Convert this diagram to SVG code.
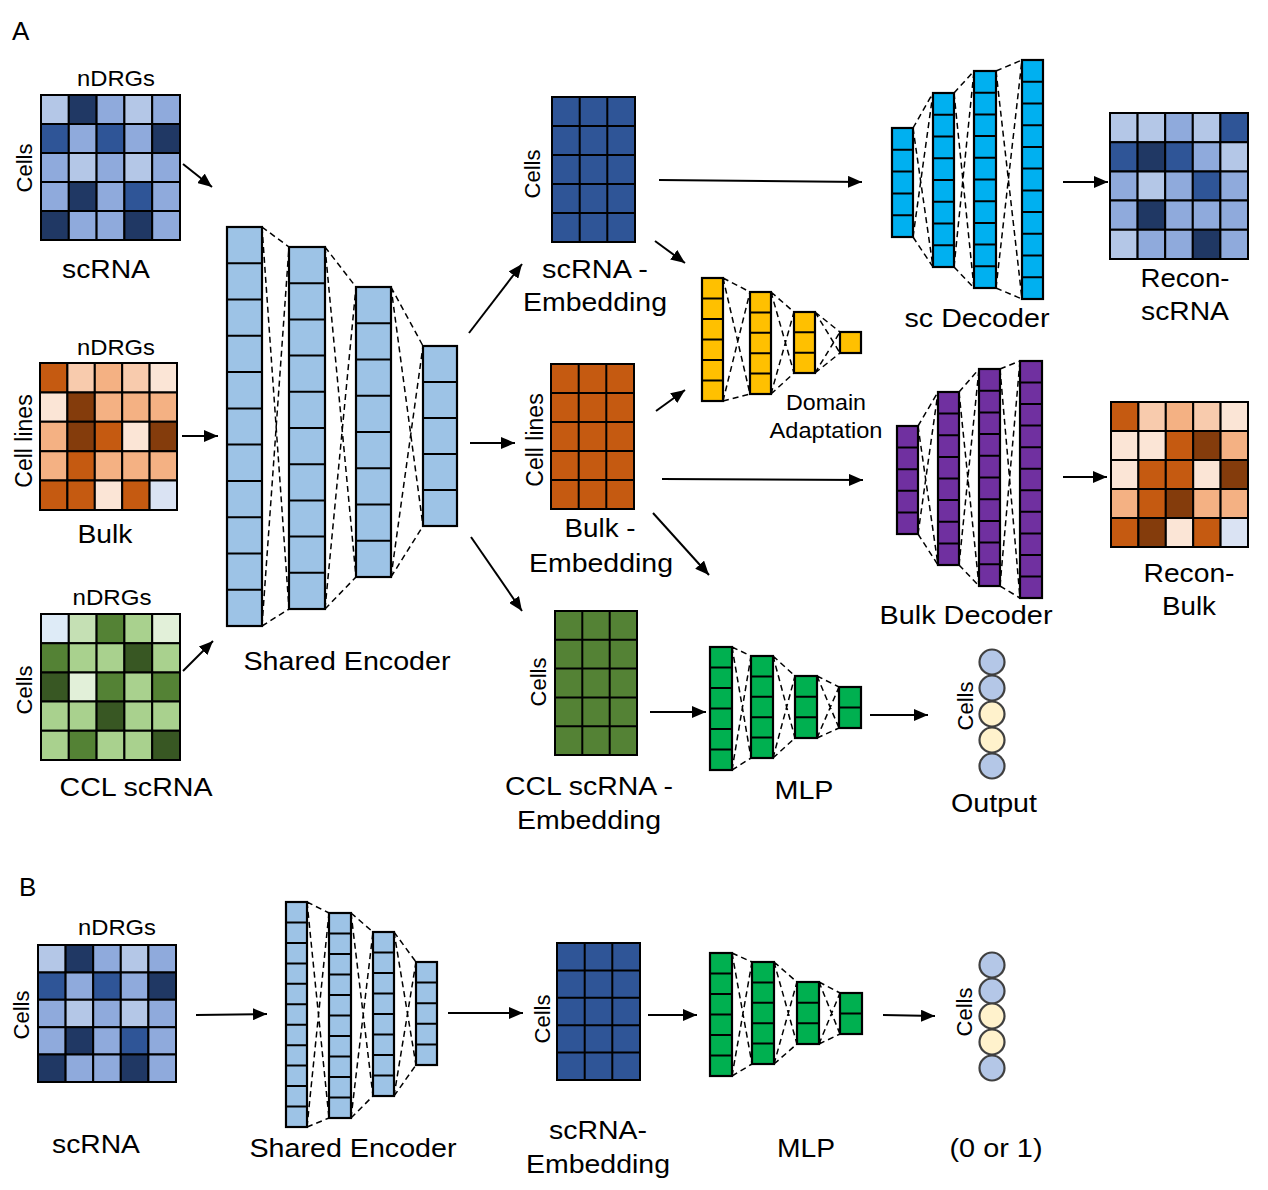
<svg xmlns="http://www.w3.org/2000/svg" width="1268" height="1190" viewBox="0 0 1268 1190">
<style>
text{font-family:"Liberation Sans",Arial,sans-serif;fill:#000}
.t{font-size:26px;text-anchor:middle}
.s{font-size:21.5px;text-anchor:middle}
.r{font-size:22px;text-anchor:middle}
.h{font-size:26px}
.m rect{stroke:#000;stroke-width:2;vector-effect:non-scaling-stroke}
.b1{fill:#b4c7e7}.b2{fill:#8faadc}.b3{fill:#2f5597}.b4{fill:#203864}
.o1{fill:#c55a11}.o2{fill:#843c0c}.o3{fill:#f4b183}.o4{fill:#f8cbad}.o5{fill:#fbe5d6}.lb{fill:#dae3f3}
.g1{fill:#deebf7}.g2{fill:#c5e0b4}.g3{fill:#548235}.g4{fill:#a9d18e}.g5{fill:#e2f0d9}.g6{fill:#385723}
.col{stroke:#000;stroke-width:2.2}
.div{stroke:#000;stroke-width:2;fill:none}
.dash{stroke:#000;stroke-width:1.5;fill:none;stroke-dasharray:6 4}
.arr{stroke:#000;stroke-width:2;fill:none;marker-end:url(#ah)}
.enc{fill:#9dc3e6}.yel{fill:#ffc000}.cyan{fill:#00b0f0}.pur{fill:#7030a0}.grn{fill:#00b050}
.emb{stroke:#000;stroke-width:2}
.oc{stroke:#404040;stroke-width:2.2}
</style>
<defs>
<marker id="ah" markerUnits="userSpaceOnUse" markerWidth="15" markerHeight="12" refX="14" refY="6" orient="auto">
<path d="M0,0 L14,6 L0,12 z" fill="#000"/>
</marker>
</defs>

<text class="h" x="12" y="40">A</text>
<text class="h" x="19" y="896">B</text>

<!-- A: scRNA input -->
<g id="scrna-in">
<text class="s" x="116" y="86" textLength="78" lengthAdjust="spacingAndGlyphs">nDRGs</text>
<text class="r" transform="translate(32,168) rotate(-90)">Cells</text>
<g class="m" transform="translate(41,95) scale(27.8,29)">
<rect x="0" y="0" width="1" height="1" class="b1"/><rect x="1" y="0" width="1" height="1" class="b4"/><rect x="2" y="0" width="1" height="1" class="b2"/><rect x="3" y="0" width="1" height="1" class="b1"/><rect x="4" y="0" width="1" height="1" class="b2"/>
<rect x="0" y="1" width="1" height="1" class="b3"/><rect x="1" y="1" width="1" height="1" class="b2"/><rect x="2" y="1" width="1" height="1" class="b3"/><rect x="3" y="1" width="1" height="1" class="b2"/><rect x="4" y="1" width="1" height="1" class="b4"/>
<rect x="0" y="2" width="1" height="1" class="b2"/><rect x="1" y="2" width="1" height="1" class="b1"/><rect x="2" y="2" width="1" height="1" class="b2"/><rect x="3" y="2" width="1" height="1" class="b1"/><rect x="4" y="2" width="1" height="1" class="b2"/>
<rect x="0" y="3" width="1" height="1" class="b2"/><rect x="1" y="3" width="1" height="1" class="b4"/><rect x="2" y="3" width="1" height="1" class="b2"/><rect x="3" y="3" width="1" height="1" class="b3"/><rect x="4" y="3" width="1" height="1" class="b2"/>
<rect x="0" y="4" width="1" height="1" class="b4"/><rect x="1" y="4" width="1" height="1" class="b2"/><rect x="2" y="4" width="1" height="1" class="b2"/><rect x="3" y="4" width="1" height="1" class="b4"/><rect x="4" y="4" width="1" height="1" class="b2"/>
</g>
<text class="t" x="106" y="278" textLength="88" lengthAdjust="spacingAndGlyphs">scRNA</text>
</g>

<!-- A: Bulk input -->
<g id="bulk-in">
<text class="s" x="116" y="355" textLength="78" lengthAdjust="spacingAndGlyphs">nDRGs</text>
<text class="r" style="font-size:23px" transform="translate(32,441) rotate(-90)">Cell lines</text>
<g class="m" transform="translate(40,363) scale(27.4,29.4)">
<rect x="0" y="0" width="1" height="1" class="o1"/><rect x="1" y="0" width="1" height="1" class="o4"/><rect x="2" y="0" width="1" height="1" class="o3"/><rect x="3" y="0" width="1" height="1" class="o4"/><rect x="4" y="0" width="1" height="1" class="o5"/>
<rect x="0" y="1" width="1" height="1" class="o5"/><rect x="1" y="1" width="1" height="1" class="o2"/><rect x="2" y="1" width="1" height="1" class="o3"/><rect x="3" y="1" width="1" height="1" class="o3"/><rect x="4" y="1" width="1" height="1" class="o3"/>
<rect x="0" y="2" width="1" height="1" class="o3"/><rect x="1" y="2" width="1" height="1" class="o2"/><rect x="2" y="2" width="1" height="1" class="o1"/><rect x="3" y="2" width="1" height="1" class="o5"/><rect x="4" y="2" width="1" height="1" class="o2"/>
<rect x="0" y="3" width="1" height="1" class="o3"/><rect x="1" y="3" width="1" height="1" class="o1"/><rect x="2" y="3" width="1" height="1" class="o3"/><rect x="3" y="3" width="1" height="1" class="o3"/><rect x="4" y="3" width="1" height="1" class="o3"/>
<rect x="0" y="4" width="1" height="1" class="o1"/><rect x="1" y="4" width="1" height="1" class="o1"/><rect x="2" y="4" width="1" height="1" class="o5"/><rect x="3" y="4" width="1" height="1" class="o1"/><rect x="4" y="4" width="1" height="1" class="lb"/>
</g>
<text class="t" x="105" y="543" textLength="55" lengthAdjust="spacingAndGlyphs">Bulk</text>
</g>

<!-- A: CCL scRNA input -->
<g id="ccl-in">
<text class="s" x="112" y="605" textLength="79" lengthAdjust="spacingAndGlyphs">nDRGs</text>
<text class="r" transform="translate(32,690) rotate(-90)">Cells</text>
<g class="m" transform="translate(41,614) scale(27.8,29.2)">
<rect x="0" y="0" width="1" height="1" class="g1"/><rect x="1" y="0" width="1" height="1" class="g2"/><rect x="2" y="0" width="1" height="1" class="g3"/><rect x="3" y="0" width="1" height="1" class="g4"/><rect x="4" y="0" width="1" height="1" class="g5"/>
<rect x="0" y="1" width="1" height="1" class="g3"/><rect x="1" y="1" width="1" height="1" class="g4"/><rect x="2" y="1" width="1" height="1" class="g4"/><rect x="3" y="1" width="1" height="1" class="g6"/><rect x="4" y="1" width="1" height="1" class="g4"/>
<rect x="0" y="2" width="1" height="1" class="g6"/><rect x="1" y="2" width="1" height="1" class="g5"/><rect x="2" y="2" width="1" height="1" class="g3"/><rect x="3" y="2" width="1" height="1" class="g4"/><rect x="4" y="2" width="1" height="1" class="g3"/>
<rect x="0" y="3" width="1" height="1" class="g4"/><rect x="1" y="3" width="1" height="1" class="g4"/><rect x="2" y="3" width="1" height="1" class="g6"/><rect x="3" y="3" width="1" height="1" class="g4"/><rect x="4" y="3" width="1" height="1" class="g4"/>
<rect x="0" y="4" width="1" height="1" class="g4"/><rect x="1" y="4" width="1" height="1" class="g3"/><rect x="2" y="4" width="1" height="1" class="g4"/><rect x="3" y="4" width="1" height="1" class="g4"/><rect x="4" y="4" width="1" height="1" class="g6"/>
</g>
<text class="t" x="136" y="796" textLength="153" lengthAdjust="spacingAndGlyphs">CCL scRNA</text>
</g>

<!-- A: Shared Encoder -->
<g id="encoder-a">
<path class="dash" d="M262,227 L289,247 M262,227 L289,609 M262,626 L289,247 M262,626 L289,609 M325,247 L356,287 M325,247 L356,577 M325,609 L356,287 M325,609 L356,577 M391,287 L423,346 M391,287 L423,526 M391,577 L423,346 M391,577 L423,526"/>
<rect class="col enc" x="227" y="227" width="35" height="399"/>
<path class="div" d="M227,263.3H262M227,299.5H262M227,335.8H262M227,372.1H262M227,408.4H262M227,444.6H262M227,480.9H262M227,517.2H262M227,553.5H262M227,589.7H262"/>
<rect class="col enc" x="289" y="247" width="36" height="362"/>
<path class="div" d="M289,283.2H325M289,319.4H325M289,355.6H325M289,391.8H325M289,428H325M289,464.2H325M289,500.4H325M289,536.6H325M289,572.8H325"/>
<rect class="col enc" x="356" y="287" width="35" height="290"/>
<path class="div" d="M356,323.3H391M356,359.5H391M356,395.8H391M356,432H391M356,468.3H391M356,504.5H391M356,540.8H391"/>
<rect class="col enc" x="423" y="346" width="34" height="180"/>
<path class="div" d="M423,382H457M423,418H457M423,454H457M423,490H457"/>
<text class="t" x="347" y="670" textLength="207" lengthAdjust="spacingAndGlyphs">Shared Encoder</text>
</g>

<!-- A: scRNA embedding -->
<g id="scrna-emb">
<text class="r" transform="translate(540,174) rotate(-90)">Cells</text>
<rect class="emb b3" x="552" y="97" width="83" height="145"/>
<path class="div" d="M579.7,97V242M607.3,97V242M552,126H635M552,155H635M552,184H635M552,213H635"/>
<text class="t" x="595" y="278" textLength="106" lengthAdjust="spacingAndGlyphs">scRNA -</text>
<text class="t" x="595" y="311" textLength="144" lengthAdjust="spacingAndGlyphs">Embedding</text>
</g>

<!-- A: Bulk embedding -->
<g id="bulk-emb">
<text class="r" style="font-size:23px" transform="translate(543,440) rotate(-90)">Cell lines</text>
<rect class="emb o1" x="551" y="364" width="83" height="145"/>
<path class="div" d="M578.7,364V509M606.3,364V509M551,393H634M551,422H634M551,451H634M551,480H634"/>
<text class="t" x="600" y="537" textLength="71" lengthAdjust="spacingAndGlyphs">Bulk -</text>
<text class="t" x="601" y="572" textLength="144" lengthAdjust="spacingAndGlyphs">Embedding</text>
</g>

<!-- A: CCL embedding -->
<g id="ccl-emb">
<text class="r" transform="translate(546,682) rotate(-90)">Cells</text>
<rect class="emb g3" x="555" y="611" width="82" height="144"/>
<path class="div" d="M582.3,611V755M609.7,611V755M555,639.8H637M555,668.6H637M555,697.4H637M555,726.2H637"/>
<text class="t" x="589" y="795" textLength="168" lengthAdjust="spacingAndGlyphs">CCL scRNA -</text>
<text class="t" x="589" y="829" textLength="144" lengthAdjust="spacingAndGlyphs">Embedding</text>
</g>

<!-- A: Domain adaptation -->
<g id="domain-adapt">
<path class="dash" d="M723,278 L750,292 M723,278 L750,394 M723,401 L750,292 M723,401 L750,394 M771,292 L794,312 M771,292 L794,373 M771,394 L794,312 M771,394 L794,373 M815,312 L840,332 M815,312 L840,353 M815,373 L840,332 M815,373 L840,353"/>
<rect class="col yel" x="702" y="278" width="21" height="123"/>
<path class="div" d="M702,298.5H723M702,319H723M702,339.5H723M702,360H723M702,380.5H723"/>
<rect class="col yel" x="750" y="292" width="21" height="102"/>
<path class="div" d="M750,312.4H771M750,332.8H771M750,353.2H771M750,373.6H771"/>
<rect class="col yel" x="794" y="312" width="21" height="61"/>
<path class="div" d="M794,332.3H815M794,352.7H815"/>
<rect class="col yel" x="840" y="332" width="21" height="21"/>
<text class="s" x="826" y="410" textLength="80" lengthAdjust="spacingAndGlyphs">Domain</text>
<text class="s" x="826" y="438" textLength="113" lengthAdjust="spacingAndGlyphs">Adaptation</text>
</g>

<!-- A: sc Decoder -->
<g id="sc-decoder">
<path class="dash" d="M913,128 L933,93 M913,128 L933,267 M913,237 L933,93 M913,237 L933,267 M954,93 L974,71 M954,93 L974,288 M954,267 L974,71 M954,267 L974,288 M996,71 L1022,60 M996,71 L1022,299 M996,288 L1022,60 M996,288 L1022,299"/>
<rect class="col cyan" x="892" y="128" width="21" height="109"/>
<path class="div" d="M892,149.8H913M892,171.6H913M892,193.4H913M892,215.2H913"/>
<rect class="col cyan" x="933" y="93" width="21" height="174"/>
<path class="div" d="M933,114.8H954M933,136.5H954M933,158.3H954M933,180H954M933,201.8H954M933,223.5H954M933,245.3H954"/>
<rect class="col cyan" x="974" y="71" width="22" height="217"/>
<path class="div" d="M974,92.7H996M974,114.4H996M974,136.1H996M974,157.8H996M974,179.5H996M974,201.2H996M974,222.9H996M974,244.6H996M974,266.3H996"/>
<rect class="col cyan" x="1022" y="60" width="21" height="239"/>
<path class="div" d="M1022,81.7H1043M1022,103.5H1043M1022,125.2H1043M1022,146.9H1043M1022,168.6H1043M1022,190.4H1043M1022,212.1H1043M1022,233.8H1043M1022,255.5H1043M1022,277.3H1043"/>
<text class="t" x="977" y="327" textLength="145" lengthAdjust="spacingAndGlyphs">sc Decoder</text>
</g>

<!-- A: Recon-scRNA -->
<g id="recon-scrna">
<g class="m" transform="translate(1110,113) scale(27.6,29.2)">
<rect x="0" y="0" width="1" height="1" class="b1"/><rect x="1" y="0" width="1" height="1" class="b1"/><rect x="2" y="0" width="1" height="1" class="b2"/><rect x="3" y="0" width="1" height="1" class="b1"/><rect x="4" y="0" width="1" height="1" class="b3"/>
<rect x="0" y="1" width="1" height="1" class="b3"/><rect x="1" y="1" width="1" height="1" class="b4"/><rect x="2" y="1" width="1" height="1" class="b3"/><rect x="3" y="1" width="1" height="1" class="b2"/><rect x="4" y="1" width="1" height="1" class="b1"/>
<rect x="0" y="2" width="1" height="1" class="b2"/><rect x="1" y="2" width="1" height="1" class="b1"/><rect x="2" y="2" width="1" height="1" class="b2"/><rect x="3" y="2" width="1" height="1" class="b3"/><rect x="4" y="2" width="1" height="1" class="b2"/>
<rect x="0" y="3" width="1" height="1" class="b2"/><rect x="1" y="3" width="1" height="1" class="b4"/><rect x="2" y="3" width="1" height="1" class="b2"/><rect x="3" y="3" width="1" height="1" class="b2"/><rect x="4" y="3" width="1" height="1" class="b2"/>
<rect x="0" y="4" width="1" height="1" class="b1"/><rect x="1" y="4" width="1" height="1" class="b2"/><rect x="2" y="4" width="1" height="1" class="b2"/><rect x="3" y="4" width="1" height="1" class="b4"/><rect x="4" y="4" width="1" height="1" class="b2"/>
</g>
<text class="t" x="1185" y="287" textLength="89" lengthAdjust="spacingAndGlyphs">Recon-</text>
<text class="t" x="1185" y="320" textLength="88" lengthAdjust="spacingAndGlyphs">scRNA</text>
</g>

<!-- A: Bulk Decoder -->
<g id="bulk-decoder">
<path class="dash" d="M918,426 L938,392 M918,426 L938,565 M918,534 L938,392 M918,534 L938,565 M959,392 L979,369 M959,392 L979,586 M959,565 L979,369 M959,565 L979,586 M1000,369 L1020,361 M1000,369 L1020,598 M1000,586 L1020,361 M1000,586 L1020,598"/>
<rect class="col pur" x="897" y="426" width="21" height="108"/>
<path class="div" d="M897,447.6H918M897,469.2H918M897,490.8H918M897,512.4H918"/>
<rect class="col pur" x="938" y="392" width="21" height="173"/>
<path class="div" d="M938,413.6H959M938,435.3H959M938,456.9H959M938,478.5H959M938,500.1H959M938,521.8H959M938,543.4H959"/>
<rect class="col pur" x="979" y="369" width="21" height="217"/>
<path class="div" d="M979,390.7H1000M979,412.4H1000M979,434.1H1000M979,455.8H1000M979,477.5H1000M979,499.2H1000M979,520.9H1000M979,542.6H1000M979,564.3H1000"/>
<rect class="col pur" x="1020" y="361" width="22" height="237"/>
<path class="div" d="M1020,382.5H1042M1020,404.1H1042M1020,425.6H1042M1020,447.2H1042M1020,468.7H1042M1020,490.3H1042M1020,511.8H1042M1020,533.4H1042M1020,554.9H1042M1020,576.5H1042"/>
<text class="t" x="966" y="624" textLength="173" lengthAdjust="spacingAndGlyphs">Bulk Decoder</text>
</g>

<!-- A: Recon-Bulk -->
<g id="recon-bulk">
<g class="m" transform="translate(1111,402) scale(27.4,29)">
<rect x="0" y="0" width="1" height="1" class="o1"/><rect x="1" y="0" width="1" height="1" class="o4"/><rect x="2" y="0" width="1" height="1" class="o3"/><rect x="3" y="0" width="1" height="1" class="o4"/><rect x="4" y="0" width="1" height="1" class="o5"/>
<rect x="0" y="1" width="1" height="1" class="o5"/><rect x="1" y="1" width="1" height="1" class="o5"/><rect x="2" y="1" width="1" height="1" class="o1"/><rect x="3" y="1" width="1" height="1" class="o2"/><rect x="4" y="1" width="1" height="1" class="o3"/>
<rect x="0" y="2" width="1" height="1" class="o5"/><rect x="1" y="2" width="1" height="1" class="o1"/><rect x="2" y="2" width="1" height="1" class="o1"/><rect x="3" y="2" width="1" height="1" class="o5"/><rect x="4" y="2" width="1" height="1" class="o2"/>
<rect x="0" y="3" width="1" height="1" class="o3"/><rect x="1" y="3" width="1" height="1" class="o1"/><rect x="2" y="3" width="1" height="1" class="o2"/><rect x="3" y="3" width="1" height="1" class="o3"/><rect x="4" y="3" width="1" height="1" class="o3"/>
<rect x="0" y="4" width="1" height="1" class="o1"/><rect x="1" y="4" width="1" height="1" class="o2"/><rect x="2" y="4" width="1" height="1" class="o5"/><rect x="3" y="4" width="1" height="1" class="o1"/><rect x="4" y="4" width="1" height="1" class="lb"/>
</g>
<text class="t" x="1189" y="582" textLength="91" lengthAdjust="spacingAndGlyphs">Recon-</text>
<text class="t" x="1189" y="615" textLength="54" lengthAdjust="spacingAndGlyphs">Bulk</text>
</g>

<!-- A: MLP -->
<g id="mlp-a">
<path class="dash" d="M732,647 L751,656 M732,647 L751,758 M732,770 L751,656 M732,770 L751,758 M773,656 L795,676 M773,656 L795,738 M773,758 L795,676 M773,758 L795,738 M817,676 L839,687 M817,676 L839,728 M817,738 L839,687 M817,738 L839,728"/>
<rect class="col grn" x="710" y="647" width="22" height="123"/>
<path class="div" d="M710,667.5H732M710,688H732M710,708.5H732M710,729H732M710,749.5H732"/>
<rect class="col grn" x="751" y="656" width="22" height="102"/>
<path class="div" d="M751,676.4H773M751,696.8H773M751,717.2H773M751,737.6H773"/>
<rect class="col grn" x="795" y="676" width="22" height="62"/>
<path class="div" d="M795,696.7H817M795,717.3H817"/>
<rect class="col grn" x="839" y="687" width="22" height="41"/>
<path class="div" d="M839,707.5H861"/>
<text class="t" x="804" y="799" textLength="59" lengthAdjust="spacingAndGlyphs">MLP</text>
</g>

<!-- A: Output -->
<g id="output-a">
<text class="r" transform="translate(973,706) rotate(-90)">Cells</text>
<circle class="oc b1" cx="992" cy="662" r="12.5"/>
<circle class="oc b1" cx="992" cy="688" r="12.5"/>
<circle class="oc" style="fill:#fff2cc" cx="992" cy="714" r="12.5"/>
<circle class="oc" style="fill:#fff2cc" cx="992" cy="740" r="12.5"/>
<circle class="oc b1" cx="992" cy="766" r="12.5"/>
<text class="t" x="994" y="812" textLength="86" lengthAdjust="spacingAndGlyphs">Output</text>
</g>

<!-- B: scRNA input -->
<g id="scrna-in-b">
<text class="s" x="117" y="935" textLength="78" lengthAdjust="spacingAndGlyphs">nDRGs</text>
<text class="r" transform="translate(29,1015) rotate(-90)">Cells</text>
<g class="m" transform="translate(38,945) scale(27.6,27.4)">
<rect x="0" y="0" width="1" height="1" class="b1"/><rect x="1" y="0" width="1" height="1" class="b4"/><rect x="2" y="0" width="1" height="1" class="b2"/><rect x="3" y="0" width="1" height="1" class="b1"/><rect x="4" y="0" width="1" height="1" class="b2"/>
<rect x="0" y="1" width="1" height="1" class="b3"/><rect x="1" y="1" width="1" height="1" class="b2"/><rect x="2" y="1" width="1" height="1" class="b3"/><rect x="3" y="1" width="1" height="1" class="b2"/><rect x="4" y="1" width="1" height="1" class="b4"/>
<rect x="0" y="2" width="1" height="1" class="b2"/><rect x="1" y="2" width="1" height="1" class="b1"/><rect x="2" y="2" width="1" height="1" class="b2"/><rect x="3" y="2" width="1" height="1" class="b1"/><rect x="4" y="2" width="1" height="1" class="b2"/>
<rect x="0" y="3" width="1" height="1" class="b2"/><rect x="1" y="3" width="1" height="1" class="b4"/><rect x="2" y="3" width="1" height="1" class="b2"/><rect x="3" y="3" width="1" height="1" class="b3"/><rect x="4" y="3" width="1" height="1" class="b2"/>
<rect x="0" y="4" width="1" height="1" class="b4"/><rect x="1" y="4" width="1" height="1" class="b2"/><rect x="2" y="4" width="1" height="1" class="b2"/><rect x="3" y="4" width="1" height="1" class="b4"/><rect x="4" y="4" width="1" height="1" class="b2"/>
</g>
<text class="t" x="96" y="1153" textLength="88" lengthAdjust="spacingAndGlyphs">scRNA</text>
</g>

<!-- B: Shared Encoder -->
<g id="encoder-b">
<path class="dash" d="M307,902 L329,913 M307,902 L329,1118 M307,1127 L329,913 M307,1127 L329,1118 M351,913 L373,932 M351,913 L373,1096 M351,1118 L373,932 M351,1118 L373,1096 M394,932 L416,962 M394,932 L416,1065 M394,1096 L416,962 M394,1096 L416,1065"/>
<rect class="col enc" x="286" y="902" width="21" height="225"/>
<path class="div" d="M286,922.5H307M286,942.9H307M286,963.4H307M286,983.8H307M286,1004.3H307M286,1024.7H307M286,1045.2H307M286,1065.6H307M286,1086.1H307M286,1106.5H307"/>
<rect class="col enc" x="329" y="913" width="22" height="205"/>
<path class="div" d="M329,933.5H351M329,954H351M329,974.5H351M329,995H351M329,1015.5H351M329,1036H351M329,1056.5H351M329,1077H351M329,1097.5H351"/>
<rect class="col enc" x="373" y="932" width="21" height="164"/>
<path class="div" d="M373,952.5H394M373,973H394M373,993.5H394M373,1014H394M373,1034.5H394M373,1055H394M373,1075.5H394"/>
<rect class="col enc" x="416" y="962" width="21" height="103"/>
<path class="div" d="M416,982.6H437M416,1003.2H437M416,1023.8H437M416,1044.4H437"/>
<text class="t" x="353" y="1157" textLength="207" lengthAdjust="spacingAndGlyphs">Shared Encoder</text>
</g>

<!-- B: scRNA embedding -->
<g id="scrna-emb-b">
<text class="r" transform="translate(550,1019) rotate(-90)">Cells</text>
<rect class="emb b3" x="557" y="943" width="83" height="137"/>
<path class="div" d="M584.7,943V1080M612.3,943V1080M557,970.4H640M557,997.8H640M557,1025.2H640M557,1052.6H640"/>
<text class="t" x="598" y="1139" textLength="98" lengthAdjust="spacingAndGlyphs">scRNA-</text>
<text class="t" x="598" y="1173" textLength="144" lengthAdjust="spacingAndGlyphs">Embedding</text>
</g>

<!-- B: MLP -->
<g id="mlp-b">
<path class="dash" d="M732,953 L752,962 M732,953 L752,1064 M732,1076 L752,962 M732,1076 L752,1064 M774,962 L797,982 M774,962 L797,1044 M774,1064 L797,982 M774,1064 L797,1044 M819,982 L840,993 M819,982 L840,1034 M819,1044 L840,993 M819,1044 L840,1034"/>
<rect class="col grn" x="710" y="953" width="22" height="123"/>
<path class="div" d="M710,973.5H732M710,994H732M710,1014.5H732M710,1035H732M710,1055.5H732"/>
<rect class="col grn" x="752" y="962" width="22" height="102"/>
<path class="div" d="M752,982.4H774M752,1002.8H774M752,1023.2H774M752,1043.6H774"/>
<rect class="col grn" x="797" y="982" width="22" height="62"/>
<path class="div" d="M797,1002.7H819M797,1023.3H819"/>
<rect class="col grn" x="840" y="993" width="22" height="41"/>
<path class="div" d="M840,1013.5H862"/>
<text class="t" x="806" y="1157" textLength="58" lengthAdjust="spacingAndGlyphs">MLP</text>
</g>

<!-- B: Output -->
<g id="output-b">
<text class="r" transform="translate(972,1012) rotate(-90)">Cells</text>
<circle class="oc b1" cx="992" cy="965" r="12.5"/>
<circle class="oc b1" cx="992" cy="991" r="12.5"/>
<circle class="oc" style="fill:#fff2cc" cx="992" cy="1016" r="12.5"/>
<circle class="oc" style="fill:#fff2cc" cx="992" cy="1042" r="12.5"/>
<circle class="oc b1" cx="992" cy="1068" r="12.5"/>
<text class="t" x="996" y="1157" textLength="93" lengthAdjust="spacingAndGlyphs">(0 or 1)</text>
</g>

<!-- Connectors -->
<g id="connectors">
<path class="arr" d="M183,164 L212,187"/>
<path class="arr" d="M182,436 L218,436"/>
<path class="arr" d="M183,671 L213,641"/>
<path class="arr" d="M469,333 L522,264"/>
<path class="arr" d="M470,443 L515,443"/>
<path class="arr" d="M471,537 L522,611"/>
<path class="arr" d="M659,180 L862,182"/>
<path class="arr" d="M655,241 L685,263"/>
<path class="arr" d="M656,411 L685,390"/>
<path class="arr" d="M662,479 L863,480"/>
<path class="arr" d="M653,513 L709,575"/>
<path class="arr" d="M1063,182 L1108,182"/>
<path class="arr" d="M1063,477 L1107,477"/>
<path class="arr" d="M650,712 L706,712"/>
<path class="arr" d="M870,715 L928,715"/>
<path class="arr" d="M196,1015 L267,1014"/>
<path class="arr" d="M448,1013 L523,1013"/>
<path class="arr" d="M648,1015 L697,1015"/>
<path class="arr" d="M883,1015 L935,1016"/>
</g>
</svg>
